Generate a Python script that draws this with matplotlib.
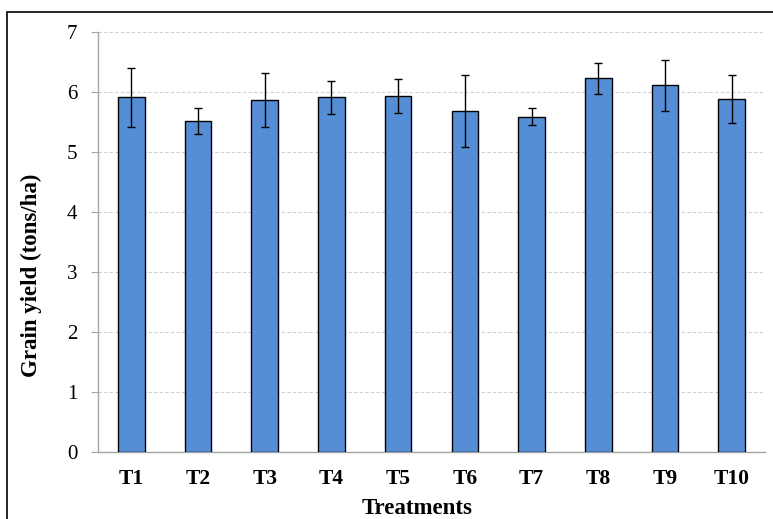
import numpy as np
import matplotlib
matplotlib.use("Agg")
import matplotlib.pyplot as plt
from matplotlib.patches import Rectangle

# treatments and grain yield (tons/ha)
treatments = ['T1', 'T2', 'T3', 'T4', 'T5', 'T6', 'T7', 'T8', 'T9', 'T10']
grain_yield = [5.91, 5.52, 5.87, 5.91, 5.93, 5.69, 5.59, 6.23, 6.11, 5.88]
yield_err = [0.49, 0.22, 0.45, 0.28, 0.28, 0.60, 0.14, 0.26, 0.42, 0.40]

plt.rcParams['font.family'] = ['Liberation Serif', 'DejaVu Serif']

W, H = 773, 519
fig = plt.figure(figsize=(W/100, H/100), dpi=100)
ax = fig.add_axes([98/W, 1-452/H, 667/W, 420/H])

x = np.arange(len(treatments))
ax.bar(x, grain_yield, width=0.4, color='#558ED5', edgecolor='black', linewidth=1.0, zorder=3)
ax.errorbar(x, grain_yield, yerr=yield_err, fmt='none', ecolor='black',
            elinewidth=1.0, capsize=3, capthick=1.0, zorder=4)

ax.set_xlim(-0.5, len(treatments)-0.5)
ax.set_ylim(0, 7)
ax.set_yticks(range(0, 8))
ax.set_xticks(x)
ax.set_xticklabels(treatments, fontsize=15.5, fontweight='bold')
ax.tick_params(axis='x', length=0, pad=12)
ax.tick_params(axis='y', length=5, color='#a6a6a6', labelsize=15, pad=10)

ax.grid(axis='y', color='#d0d0d0', linestyle=(0, (3, 2)), linewidth=0.8, zorder=0)
for s in ['top', 'right']:
    ax.spines[s].set_visible(False)
for s in ['left', 'bottom']:
    ax.spines[s].set_color('#a6a6a6')
    ax.spines[s].set_linewidth(1.0)

# axis titles placed where they sit in the original
fig.text(31/W, 1-275/H, 'Grain yield (tons/ha)', rotation=90, fontsize=16.5,
         fontweight='bold', ha='center', va='center')
fig.text(417/W, 1-508/H, 'Treatments', fontsize=16.5, fontweight='bold',
         ha='center', va='center')

# outer frame (only top and left edges visible in the crop)
fig.patches.append(Rectangle((7/W, -0.1), 1.2, 1-12/H+0.1, transform=fig.transFigure,
                             fill=False, edgecolor='black', linewidth=1.2))

fig.savefig('out.png', dpi=100)
